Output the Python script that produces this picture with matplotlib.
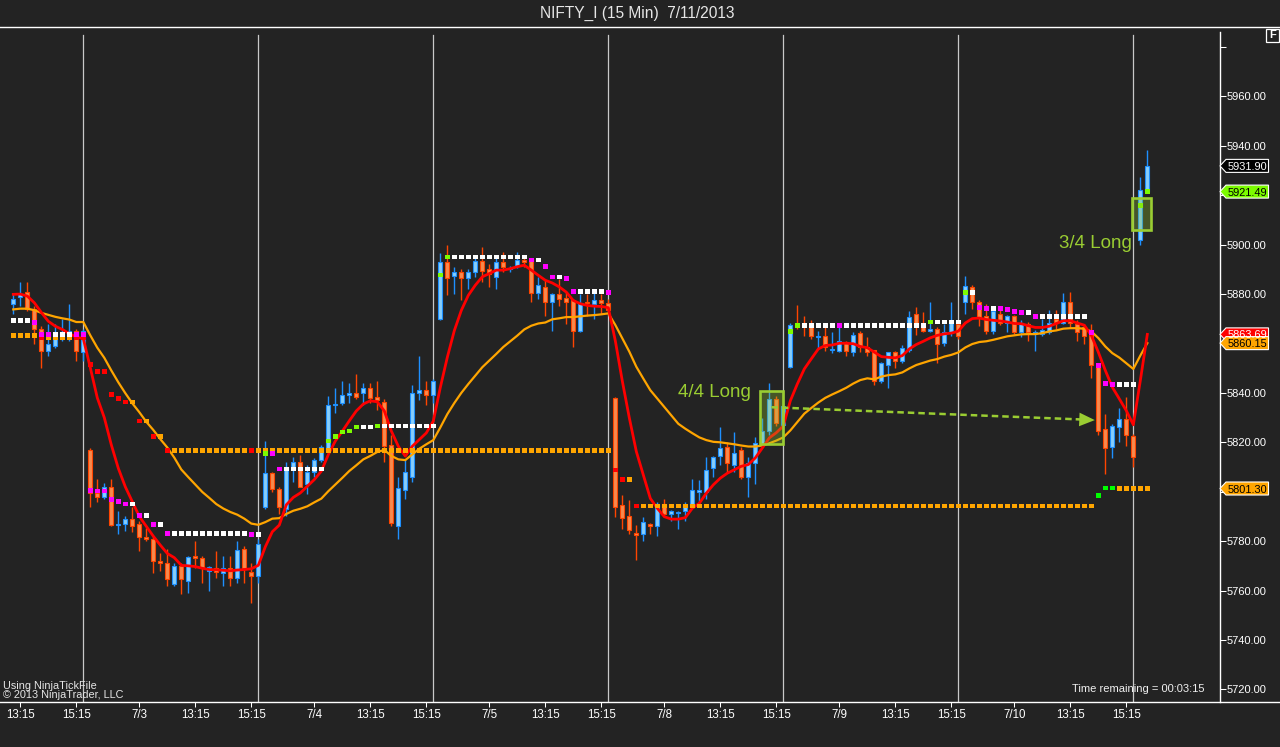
import matplotlib
matplotlib.use('Agg')
import matplotlib.pyplot as plt
from matplotlib.patches import Rectangle, Polygon
from matplotlib.lines import Line2D
import numpy as np

plt.rcParams['font.family'] = ['Liberation Sans', 'DejaVu Sans']

W, H = 1280, 747
BG = '#232323'

# ---------------- data ----------------
opens = [
    5876.1, 5879, 5881, 5874, 5866, 5857, 5859, 5862, 5863, 5865, 5856.5,
    5817, 5799.5, 5798, 5802, 5786.5, 5787, 5789, 5787, 5781.5, 5781,
    5772, 5771, 5762.5, 5770, 5764, 5774, 5773, 5768, 5769, 5767,
    5769, 5765, 5777, 5767.5, 5766,
    5794, 5807.5, 5801, 5793, 5810, 5812, 5803, 5808, 5813, 5817,
    5835, 5836, 5839, 5840, 5840, 5842, 5838.5, 5836.5, 5819, 5786,
    5800.5, 5806, 5840, 5841, 5839,
    5870, 5893, 5887.5, 5889, 5886.5, 5889, 5893.5, 5890, 5887, 5893,
    5890, 5891.5, 5894, 5893.5, 5880.5, 5883, 5877, 5880, 5878.5, 5877.5,
    5865, 5877, 5876, 5877.5, 5876.5,
    5837.8, 5794.5, 5790, 5783.3, 5782.7, 5786.8, 5786, 5795, 5791, 5791.5,
    5792, 5794, 5800, 5799.8, 5809.8, 5814.3, 5818, 5811, 5817, 5806,
    5811.5, 5819.2, 5824.4, 5837.4, 5827,
    5850.3, 5868, 5868, 5867.3, 5862.6, 5862.9, 5857.5, 5857, 5860.5, 5856.5,
    5864.2, 5858.6, 5857.2, 5845, 5851.5, 5856.4, 5852.8, 5857.2, 5871.8, 5867,
    5864.9, 5865.7, 5860.4, 5864.5, 5867.7,
    5877, 5882.7, 5877, 5871, 5865, 5872, 5868.5, 5871, 5864.5, 5868,
    5864.3, 5864, 5864.5, 5870, 5868.5, 5877, 5868, 5866.5, 5864, 5850.6,
    5825.3, 5818.3, 5826.4, 5829.6, 5822.7,
    5901.8, 5921.5,
]
highs = [
    5879.9, 5885, 5885, 5875, 5867, 5868, 5868, 5870, 5876, 5866, 5866,
    5817.5, 5805, 5803.5, 5805, 5792, 5790, 5794, 5788, 5785.5, 5782,
    5775, 5777, 5771, 5771, 5774, 5780, 5774, 5770, 5776, 5774,
    5774, 5780, 5778, 5771, 5781,
    5820.5, 5808, 5802, 5812, 5814, 5815, 5811, 5813.5, 5819, 5838.6,
    5842, 5845, 5844, 5847.5, 5844, 5844, 5845, 5837.5, 5823, 5806,
    5813, 5843, 5855, 5845, 5845.5,
    5896.5, 5900, 5891, 5890, 5890, 5895, 5899, 5892, 5895, 5897,
    5891.5, 5897, 5896, 5894, 5887, 5886, 5880.5, 5886, 5881, 5878,
    5880, 5880, 5881, 5880, 5878,
    5838.3, 5798.5, 5796.5, 5786.4, 5789.6, 5787.2, 5796, 5797, 5792.5, 5792,
    5796, 5805, 5804.6, 5814, 5814.5, 5826, 5820, 5824, 5818, 5814,
    5822, 5830, 5844, 5838.6, 5836,
    5868.5, 5875.4, 5871, 5869.6, 5865, 5866.5, 5864.5, 5867, 5861, 5864.6,
    5865, 5862.5, 5857.5, 5852.5, 5856.5, 5857, 5859.2, 5873, 5874.6, 5872.6,
    5877, 5866.5, 5867.7, 5876.6, 5869,
    5887.2, 5883.5, 5877.8, 5875.8, 5873.8, 5873.8, 5871.5, 5871.5, 5869.6, 5868.7,
    5865.3, 5870, 5873.5, 5873.5, 5880.6, 5881, 5869.5, 5868, 5867.7, 5851,
    5831.4, 5827.5, 5834, 5838.5, 5823.5,
    5927.2, 5938.3,
]
lows = [
    5872.1, 5875, 5873, 5860, 5850, 5855, 5858, 5861, 5861, 5853, 5853,
    5794, 5796, 5797, 5786, 5783, 5784, 5783.5, 5776, 5780, 5767,
    5768, 5762, 5762, 5758.5, 5759, 5769, 5763, 5760, 5765, 5762,
    5762, 5763, 5763, 5755, 5763,
    5793, 5800, 5791, 5790, 5804, 5802, 5799, 5806, 5812, 5816.5,
    5832, 5835, 5836, 5837.5, 5835, 5836, 5833, 5812, 5786, 5781,
    5797, 5804, 5837, 5835, 5836,
    5869.5, 5879.5, 5880, 5877.5, 5882, 5887, 5885, 5883, 5882, 5889,
    5889, 5890.5, 5891, 5877, 5878, 5871, 5865, 5875, 5868, 5858.5,
    5864.5, 5871, 5870, 5872, 5873,
    5789.6, 5784.8, 5782.7, 5772.2, 5779.9, 5782.7, 5782, 5789.6, 5788, 5785,
    5788, 5793.7, 5795, 5797, 5805.8, 5811, 5808, 5808, 5805, 5798,
    5803, 5818.5, 5823, 5826.5, 5826,
    5850, 5865.7, 5863, 5862, 5858, 5856.8, 5856, 5856.5, 5855, 5855,
    5856.5, 5855, 5843, 5844, 5842, 5850, 5852.3, 5856.4, 5863.3, 5864.5,
    5864.5, 5852.3, 5858.8, 5863, 5862,
    5871.8, 5873.8, 5867, 5863.7, 5864, 5867.3, 5864.5, 5863.7, 5862.5, 5861,
    5857, 5863, 5864, 5866, 5868, 5866.6, 5861, 5860, 5846, 5823,
    5807, 5813.6, 5820, 5818.7, 5810,
    5899.8, 5921,
]
closes = [
    5878.1, 5880, 5874, 5866, 5857, 5860, 5862.5, 5864.5, 5865, 5857, 5865,
    5799.5, 5798, 5802, 5786.5, 5787, 5789, 5786, 5781.5, 5781, 5772,
    5771, 5764.5, 5770, 5764.5, 5773.5, 5773, 5769, 5769.5, 5767.5, 5769,
    5765, 5776.5, 5769, 5766, 5779,
    5807.5, 5801, 5794, 5810, 5812, 5802, 5808, 5813, 5818, 5835,
    5835.5, 5839, 5840, 5838.5, 5842, 5838, 5837, 5818.5, 5787.5, 5801.5,
    5808, 5840, 5841, 5839, 5845,
    5893, 5886.5, 5889, 5886.5, 5889, 5893.5, 5889.5, 5888, 5893, 5891,
    5890.5, 5894, 5893, 5880.5, 5883.5, 5877, 5880, 5878, 5877, 5865,
    5876.5, 5876.5, 5877.5, 5876.5, 5873.5,
    5794, 5789.5, 5784.5, 5782.6, 5787.6, 5786, 5795, 5791, 5792, 5791.8,
    5794.5, 5800.5, 5800.6, 5808.6, 5814.2, 5817.9, 5811.5, 5815.5, 5806, 5811.5,
    5819.6, 5824.4, 5837.4, 5827.7, 5834.5,
    5867.3, 5867, 5867, 5862.9, 5863, 5858.4, 5857.9, 5861, 5857, 5863.5,
    5858.6, 5856.5, 5845, 5852, 5856.4, 5852.8, 5858, 5870.6, 5867, 5865,
    5866, 5859.6, 5864.5, 5868.5, 5862.9,
    5883.1, 5877, 5870.2, 5865, 5873, 5868.5, 5871, 5864.5, 5868.5, 5864.5,
    5864.6, 5865.5, 5868.5, 5868.5, 5876.6, 5868.5, 5864.8, 5863.2, 5851.4, 5824.5,
    5817.6, 5826.8, 5829.6, 5823, 5814,
    5922, 5931.9,
]
fast_ma = [
    5879.9, 5880, 5879.2, 5876.5, 5872.6, 5869, 5867, 5865.7, 5864, 5862.6, 5862,
    5850.2, 5838, 5830, 5819, 5809.5, 5802, 5796, 5790, 5786, 5782,
    5778.4, 5775, 5773.3, 5770.2, 5770, 5769.7, 5769, 5768.5, 5768.4, 5768.2,
    5768, 5768.3, 5768.5, 5768.8, 5770.2,
    5777.7, 5783.8, 5786.5, 5794.7, 5797.7, 5799.5, 5802.2, 5804.9, 5808.3, 5815,
    5820.5, 5824.5, 5828.7, 5832.7, 5835.5, 5836.8, 5836.4, 5832.7, 5824.6, 5818.4,
    5814.4, 5818.4, 5821.1, 5823.8, 5828.6,
    5842.2, 5854.4, 5865.2, 5873.4, 5879.5, 5883.6, 5887, 5888.3, 5889.7, 5889.7,
    5890.3, 5891.1, 5891.7, 5889.7, 5887.6, 5885.6, 5884.5, 5882.9, 5880.8, 5877.4,
    5876.1, 5875.4, 5875.1, 5875, 5874.5,
    5861.1, 5844.8, 5829.9, 5816.3, 5806.8, 5797.3, 5793.3, 5789.9, 5788.9, 5788.9,
    5789.5, 5793.3, 5795.3, 5799.4, 5802.8, 5805.5, 5807.5, 5808.9, 5810.3, 5811,
    5813.7, 5817.7, 5821.8, 5823.9, 5826.6,
    5836.8, 5843.6, 5849.7, 5853.8, 5857.8, 5859.2, 5859.4, 5860.1, 5860.1, 5859.9,
    5858.8, 5858.3, 5856.5, 5854.7, 5854.4, 5854.2, 5855.1, 5857.8, 5859.6, 5860.9,
    5862.3, 5863.3, 5863.9, 5864.2, 5865,
    5868.3, 5870.1, 5870.3, 5869.7, 5869.4, 5869.1, 5868.7, 5868.1, 5868, 5867.2,
    5866.5, 5866.5, 5867, 5868.1, 5869.2, 5869.2, 5868.3, 5867.4, 5863.3, 5856.5,
    5849.1, 5842.3, 5837.6, 5832.8, 5827.1,
    5845, 5863.69,
]
slow_ma = [
    5873.8, 5874.1, 5874.1, 5873.5, 5872.4, 5871.6, 5870.8, 5870.2, 5869.7, 5868.7, 5868.7,
    5863.3, 5858.3, 5854.2, 5849.1, 5844.3, 5839.9, 5835.8, 5832.2, 5828.3, 5825,
    5821.3, 5817.9, 5813.8, 5809, 5805.9, 5802.9, 5799.9, 5797.5, 5795, 5793.2,
    5791.8, 5790.7, 5789.1, 5787.1, 5786.6,
    5787.7, 5789.1, 5789.3, 5791, 5792.3, 5793.1, 5794.1, 5795.7, 5797.2, 5800.2,
    5802.9, 5805.6, 5808.4, 5810.7, 5813.1, 5814.5, 5816.1, 5816.9, 5814.5, 5813.1,
    5812.8, 5815.1, 5817.4, 5819.2, 5820.9,
    5826, 5831.4, 5835.9, 5840, 5843.6, 5847, 5850.4, 5853.1, 5855.8, 5858.6,
    5860.9, 5863.2, 5865.7, 5867.2, 5868.1, 5868.5, 5869.8, 5870.2, 5870.7, 5870.7,
    5871, 5871.3, 5871.5, 5871.8, 5872.2,
    5867.5, 5862.1, 5856.7, 5850.6, 5845.8, 5841.1, 5837.7, 5834.3, 5830.9, 5827.5,
    5825.5, 5823.7, 5822, 5820.9, 5820.2, 5820, 5819.6, 5819.2, 5818.7, 5818.3,
    5818.3, 5818.7, 5819.6, 5820.7, 5822,
    5824.8, 5828.2, 5831.6, 5833.9, 5836.1, 5838, 5839.4, 5840.7, 5842.1, 5843.8,
    5845.2, 5845.9, 5845.5, 5846.6, 5847.2, 5847.5, 5848.3, 5849.9, 5851.3, 5852.2,
    5853.1, 5853.7, 5854.7, 5855.4, 5856.4,
    5858.4, 5859.8, 5860.6, 5860.9, 5861.5, 5862.2, 5862.9, 5863.3, 5863.7, 5863.8,
    5863.8, 5864.2, 5864.9, 5865.3, 5866, 5866.2, 5866.2, 5866, 5864.9, 5862.2,
    5858.8, 5856.1, 5854.3, 5852, 5849.7,
    5855.1, 5860.15,
]
# stop-dot levels: (first bar, last bar, price level, colour code)
upper_dots = [
    (0, 2, 5869.4, 'w'), (3, 3, 5868.6, 'm'), (4, 5, 5863.8, 'm'), (6, 8, 5863.8, 'w'),
    (9, 10, 5863.8, 'm'),
    (11, 11, 5800.5, 'm'), (12, 13, 5800.3, 'm'), (14, 14, 5796.7, 'm'), (15, 15, 5796, 'm'),
    (16, 16, 5795, 'm'), (17, 17, 5795, 'w'), (18, 18, 5790.5, 'm'), (19, 19, 5790.5, 'w'),
    (20, 20, 5786.8, 'm'), (21, 21, 5786.8, 'w'), (22, 22, 5783.2, 'm'), (23, 33, 5783, 'w'),
    (34, 34, 5782.8, 'm'), (35, 35, 5782.8, 'w'),
    (36, 36, 5815.5, 'g'), (37, 37, 5815.5, 'm'), (38, 38, 5809.2, 'm'), (39, 44, 5809.2, 'w'),
    (45, 45, 5820.5, 'g'), (46, 46, 5822.5, 'g'), (47, 47, 5824.2, 'g'), (48, 48, 5824.6, 'g'),
    (49, 49, 5826.2, 'g'), (50, 51, 5826.2, 'w'), (52, 52, 5826.6, 'g'), (53, 60, 5826.6, 'w'),
    (61, 61, 5887.7, 'g'), (62, 62, 5895, 'g'), (63, 73, 5895, 'w'), (74, 74, 5893.8, 'm'),
    (75, 75, 5893.8, 'w'), (76, 76, 5891.3, 'm'), (77, 77, 5886.9, 'm'), (78, 78, 5886.9, 'w'),
    (79, 79, 5886.3, 'm'), (80, 80, 5881.2, 'm'), (81, 84, 5881.2, 'w'), (85, 85, 5880.6, 'm'),
    (111, 111, 5865, 'g'), (112, 112, 5867.4, 'g'), (113, 117, 5867.4, 'w'), (118, 118, 5867.4, 'm'),
    (119, 130, 5867.4, 'w'), (131, 131, 5868.7, 'g'), (132, 135, 5868.7, 'w'),
    (136, 136, 5880.8, 'g'), (137, 137, 5880.8, 'w'), (138, 138, 5874.7, 'm'), (139, 139, 5874.2, 'm'),
    (140, 140, 5874.2, 'w'), (141, 141, 5874.2, 'm'), (142, 142, 5873.8, 'm'), (143, 143, 5873.1, 'm'),
    (144, 144, 5872.7, 'm'), (145, 145, 5872.7, 'w'), (146, 146, 5871, 'm'), (147, 153, 5871, 'w'),
    (154, 154, 5864.6, 'm'), (155, 155, 5851, 'm'), (156, 156, 5843.9, 'm'), (157, 157, 5843.5, 'm'),
    (158, 160, 5843.5, 'w'), (161, 161, 5915.8, 'g'), (162, 162, 5921.49, 'g'),
]
lower_dots = [
    (0, 3, 5863.3, 'o'), (4, 4, 5862.5, 'r'), (5, 8, 5862.5, 'o'), (9, 10, 5862.5, 'r'),
    (11, 11, 5851.5, 'r'), (12, 13, 5848.6, 'r'), (14, 14, 5839.4, 'r'), (15, 15, 5837.9, 'r'),
    (16, 16, 5836.3, 'r'), (17, 17, 5836.3, 'o'), (18, 18, 5828.6, 'r'), (19, 19, 5828.6, 'o'),
    (20, 20, 5822.5, 'r'), (21, 21, 5822.5, 'o'), (22, 22, 5816.8, 'r'), (23, 33, 5816.6, 'o'),
    (34, 34, 5816.6, 'r'), (35, 85, 5816.6, 'o'),
    (86, 86, 5808.8, 'r'), (87, 87, 5804.8, 'r'), (88, 88, 5804.8, 'o'), (89, 89, 5794.2, 'r'),
    (90, 154, 5794.2, 'o'), (155, 155, 5798.4, 'G'), (156, 157, 5801.5, 'G'), (158, 162, 5801.3, 'o'),
]
time_labels = ['13:15', '15:15', '7/3', '13:15', '15:15', '7/4', '13:15', '15:15', '7/5',
               '13:15', '15:15', '7/8', '13:15', '15:15', '7/9', '13:15', '15:15', '7/10',
               '13:15', '15:15']
time_label_bars = [1, 9, 18, 26, 34, 43, 51, 59, 68, 76, 84, 93, 101, 109, 118, 126, 134,
                   143, 151, 159]
session_end_bars = [10, 35, 60, 85, 110, 135, 160]
price_ticks = [5720, 5740, 5760, 5780, 5800, 5820, 5840, 5860, 5880, 5900, 5920, 5940, 5960, 5980]
# tick values whose labels are hidden behind a price marker or the top edge
hidden_tick_labels = [5800, 5860, 5920, 5980]
# right-axis price markers: (value, fill, text colour)
price_markers = [(5863.69, '#FF0000', 'white'), (5860.15, '#FFA500', 'black'),
                 (5801.30, '#FFA500', 'black'), (5931.90, '#000000', 'white'),
                 (5921.49, '#7CFC00', 'black')]

DOT_COLORS = {'w': '#FFFFFF', 'm': '#FF00FF', 'g': '#7CFC00', 'o': '#FFA500',
              'r': '#FF0000', 'G': '#00FF00'}

# ---------------- figure ----------------
fig = plt.figure(figsize=(W / 100, H / 100), dpi=100, facecolor=BG)
PL, PR, PT, PB = 2.0, 1219.5, 27.3, 701.7
ax = fig.add_axes([PL / W, 1 - PB / H, (PR - PL) / W, (PB - PT) / H])
ax.set_facecolor(BG)
n = len(opens)
x = np.arange(n)
ax.set_xlim(-1.614, 172.31)
ax.set_ylim(5715.0, 5988.0)
for s in ax.spines.values():
    s.set_visible(False)

# session separators
for b in session_end_bars:
    ax.axvline(b, ymin=0, ymax=0.9886, color='#C8C8C8', lw=0.9, zorder=1)

o = np.array(opens); c = np.array(closes); hi = np.array(highs); lo = np.array(lows)
up = c >= o
UP_FILL, UP_EDGE = '#87CEFA', '#1E90FF'
DN_FILL, DN_EDGE = '#F78A4E', '#FF4500'
wick_cols = [UP_EDGE if u else DN_EDGE for u in up]
ax.vlines(x, lo, hi, colors=wick_cols, lw=1.0, zorder=2)
bottoms = np.minimum(o, c)
heights = np.maximum(np.abs(c - o), 0.25)
ax.bar(x, heights, bottom=bottoms, width=0.6,
       color=[UP_FILL if u else DN_FILL for u in up],
       edgecolor=[UP_EDGE if u else DN_EDGE for u in up], linewidth=0.8, zorder=3)

# moving averages
ax.plot(x, slow_ma, color='#FFA500', lw=1.6, zorder=4, solid_joinstyle='round')
ax.plot(x, fast_ma, color='#FF0000', lw=2.0, zorder=4, solid_joinstyle='round')

# dots
for series in (lower_dots, upper_dots):
    xs, ys, cs = [], [], []
    for b0, b1, lvl, cc in series:
        for b in range(b0, b1 + 1):
            xs.append(b); ys.append(lvl); cs.append(DOT_COLORS[cc])
    ax.scatter(xs, ys, s=12, marker='s', c=cs, linewidths=0, zorder=5)

# annotations
GREEN = '#9ACD32'
ax.add_patch(Rectangle((106.6, 5819.5), 3.3, 21.2, facecolor=GREEN, alpha=0.3,
                       edgecolor='none', zorder=6))
ax.add_patch(Rectangle((106.6, 5819.5), 3.3, 21.2, facecolor='none',
                       edgecolor=GREEN, lw=1.9, zorder=6))
ax.text(105.3, 5840.0, '4/4 Long', color=GREEN, fontsize=13.5, ha='right', va='center', zorder=7)
ax.plot([108.3, 153.0], [5834.2, 5829.2], color=GREEN, lw=1.8, ls=(0, (2.6, 1.6)), zorder=6)
ax.annotate('', xy=(154.5, 5829.0), xytext=(152.3, 5829.25),
            arrowprops=dict(arrowstyle='-|>,head_length=0.8,head_width=0.35',
                            color=GREEN, lw=0, mutation_scale=14, shrinkA=0, shrinkB=0),
            zorder=7)
ax.add_patch(Rectangle((159.86, 5906.0), 2.71, 12.8, facecolor=GREEN, alpha=0.3,
                       edgecolor='none', zorder=6))
ax.add_patch(Rectangle((159.86, 5906.0), 2.71, 12.8, facecolor='none',
                       edgecolor=GREEN, lw=1.9, zorder=6))
ax.text(159.8, 5900.6, '3/4 Long', color=GREEN, fontsize=13.5, ha='right', va='center', zorder=7)

# axes ticks
ax.yaxis.tick_right()
ax.set_yticks(price_ticks)
ax.set_yticklabels(['' if v in hidden_tick_labels else '%.2f' % v for v in price_ticks])
ax.tick_params(axis='y', direction='out', length=4.3, width=0.75, colors='white',
               labelsize=8.0, pad=1.0)
ax.set_xticks(time_label_bars)
ax.set_xticklabels(time_labels)
ax.tick_params(axis='x', direction='out', length=3.6, width=0.75, colors='white',
               labelsize=8.3, pad=1.8)

# frame lines in figure pixels
def fx(px):
    return px / W

def fy(py):
    return 1 - py / H

fig.add_artist(Line2D([0, 1], [fy(PT), fy(PT)], color='white', lw=1.0))
fig.add_artist(Line2D([0, 1], [fy(PB), fy(PB)], color='white', lw=1.0))
fig.add_artist(Line2D([fx(PR), fx(PR)], [fy(32), fy(PB)], color='white', lw=1.0))

# title
fig.text(0.4977, fy(13.5), 'NIFTY_I (15 Min)  7/11/2013', color='#E6E6E6', fontsize=11.2,
         ha='center', va='center')
# F box
fig.add_artist(Rectangle((fx(1266.3), fy(41.7)), (1279 - 1266.3) / W, 12.4 / H,
                         facecolor=BG, edgecolor='white', lw=0.9, transform=fig.transFigure))
fig.text(fx(1272.6), fy(35.5), 'F', color='white', fontsize=8, ha='center', va='center',
         fontweight='bold')

# footer texts
fig.text(fx(3), fy(686), 'Using NinjaTickFile', color='#E6E6E6', fontsize=7.8,
         ha='left', va='center')
fig.text(fx(3), fy(694.5), '\u00a9 2013 NinjaTrader, LLC', color='#E6E6E6', fontsize=7.8,
         ha='left', va='center')
fig.text(fx(1204), fy(689), 'Time remaining = 00:03:15', color='#F0F0F0', fontsize=8.0,
         ha='right', va='center')

# price markers on the right axis
fig.canvas.draw()
inv = fig.transFigure.inverted()
for val, fill, tcol in price_markers:
    yd = ax.transData.transform((0, val))[1]
    x_tip = ax.transData.transform((172.31, val))[0]
    pts_disp = [(x_tip + 0.5, yd), (x_tip + 6.5, yd + 6.5), (1268.5, yd + 6.5),
                (1268.5, yd - 6.5), (x_tip + 6.5, yd - 6.5)]
    pts = inv.transform(pts_disp)
    fig.add_artist(Polygon(pts, closed=True, facecolor=fill, edgecolor='white', lw=0.8,
                           transform=fig.transFigure, zorder=5))
    tx, ty = inv.transform((x_tip + 8.5, yd))
    fig.text(tx, ty, '%.2f' % val, color=tcol, fontsize=7.9, ha='left', va='center_baseline',
             zorder=6)

fig.savefig('out.png', dpi=100, facecolor=BG)
